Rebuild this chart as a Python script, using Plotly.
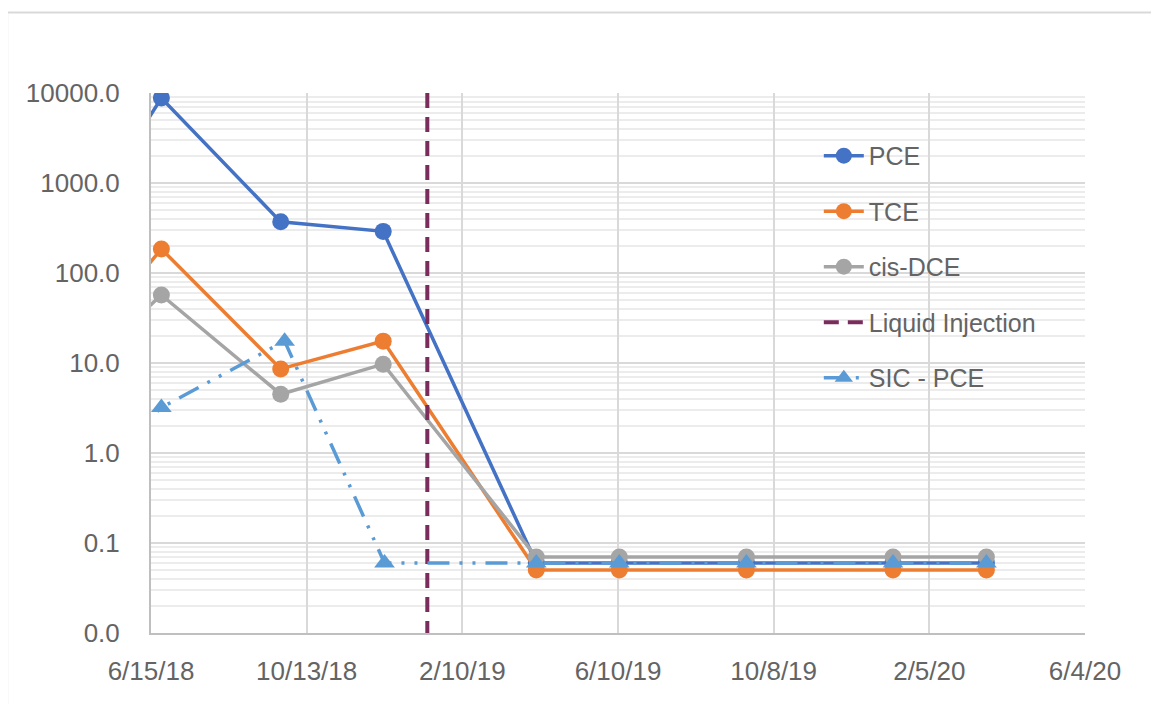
import plotly.graph_objects as go

# ---- data ----
dates = ["2018-06-01", "2018-06-23", "2018-09-23", "2018-12-11",
         "2019-04-08", "2019-06-11", "2019-09-17", "2020-01-08", "2020-03-20"]
pce = [2770, 8800, 370, 290, 0.06, 0.06, 0.06, 0.06, 0.06]
tce = [76, 185, 8.6, 17.5, 0.05, 0.05, 0.05, 0.05, 0.05]
cis_dce = [29, 57, 4.5, 9.7, 0.07, 0.07, 0.07, 0.07, 0.07]

sic_dates = ["2018-06-01", "2018-06-23", "2018-09-26", "2018-12-12",
             "2019-04-08", "2019-06-11", "2019-09-17", "2020-01-08", "2020-03-20"]
sic_pce = [1.7, 3.2, 17.5, 0.06, 0.06, 0.06, 0.06, 0.06, 0.06]

inj_dates = ["2019-01-14", "2019-01-14"]
inj_vals = [10000, 0.01]

x_tick_vals = ["2018-06-15", "2018-10-13", "2019-02-10", "2019-06-10",
               "2019-10-08", "2020-02-05", "2020-06-04"]
x_tick_text = ["6/15/18", "10/13/18", "2/10/19", "6/10/19", "10/8/19", "2/5/20", "6/4/20"]
y_tick_vals = [0.01, 0.1, 1, 10, 100, 1000, 10000]
y_tick_text = ["0.0", "0.1", "1.0", "10.0", "100.0", "1000.0", "10000.0"]

FONT = "Liberation Sans"
TXT = "#646464"

fig = go.Figure()
fig.add_trace(go.Scatter(x=dates, y=pce, name="PCE", mode="lines+markers",
                         line=dict(color="#4472C4", width=3.5),
                         marker=dict(size=17, color="#4472C4"), legendgroup="a"))
fig.add_trace(go.Scatter(x=dates, y=tce, name="TCE", mode="lines+markers",
                         line=dict(color="#ED7D31", width=3.5),
                         marker=dict(size=17, color="#ED7D31"), legendgroup="b"))
fig.add_trace(go.Scatter(x=dates, y=cis_dce, name="cis-DCE", mode="lines+markers",
                         line=dict(color="#A5A5A5", width=3.5),
                         marker=dict(size=17, color="#A5A5A5"), legendgroup="c"))
fig.add_trace(go.Scatter(x=inj_dates, y=inj_vals, name="Liquid Injection", mode="lines",
                         line=dict(color="#7A2C5C", width=4, dash="15px,9px"),
                         legendgroup="d"))
fig.add_trace(go.Scatter(x=sic_dates, y=sic_pce, name="SIC - PCE", mode="lines+markers",
                         line=dict(color="#5B9BD5", width=3.5,
                                   dash="22px,10px,3px,10px,3px,10px"),
                         marker=dict(size=18, color="#5B9BD5", symbol="triangle-up"),
                         legendgroup="e"))

fig.update_xaxes(type="date", range=["2018-06-15", "2020-06-04"],
                 tickvals=x_tick_vals, ticktext=x_tick_text,
                 showgrid=True, gridcolor="#d9d9d9", gridwidth=2,
                 showline=True, linecolor="#bfbfbf", linewidth=2,
                 ticks="", ticklabelstandoff=14,
                 tickfont=dict(family=FONT, size=26, color=TXT), zeroline=False)
fig.update_yaxes(type="log", range=[-2, 4],
                 tickvals=y_tick_vals, ticktext=y_tick_text,
                 showgrid=True, gridcolor="#d9d9d9", gridwidth=2,
                 minor=dict(dtick="D1", showgrid=True, gridcolor="#ececec", gridwidth=1.5, ticks=""),
                 showline=True, linecolor="#bfbfbf", linewidth=2,
                 ticks="", ticklabelstandoff=24,
                 tickfont=dict(family=FONT, size=26, color=TXT), zeroline=False)

fig.update_layout(
    width=1159, height=704,
    margin=dict(l=143, r=82, t=85, b=79),
    paper_bgcolor="white", plot_bgcolor="white",
    font=dict(family=FONT, size=26, color=TXT),
    showlegend=True,
    legend=dict(x=0.715, y=0.926, xanchor="left", yanchor="top",
                bgcolor="rgba(0,0,0,0)", font=dict(family=FONT, size=25, color=TXT),
                traceorder="grouped", tracegroupgap=20, itemwidth=40),
    shapes=[dict(type="rect", xref="paper", yref="paper",
                 x0=-0.154, x1=1.09, y0=-0.16, y1=1.149,
                 line=dict(color="#d9d9d9", width=2), fillcolor="rgba(0,0,0,0)",
                 layer="below")],
)

fig.write_html("out.html")
